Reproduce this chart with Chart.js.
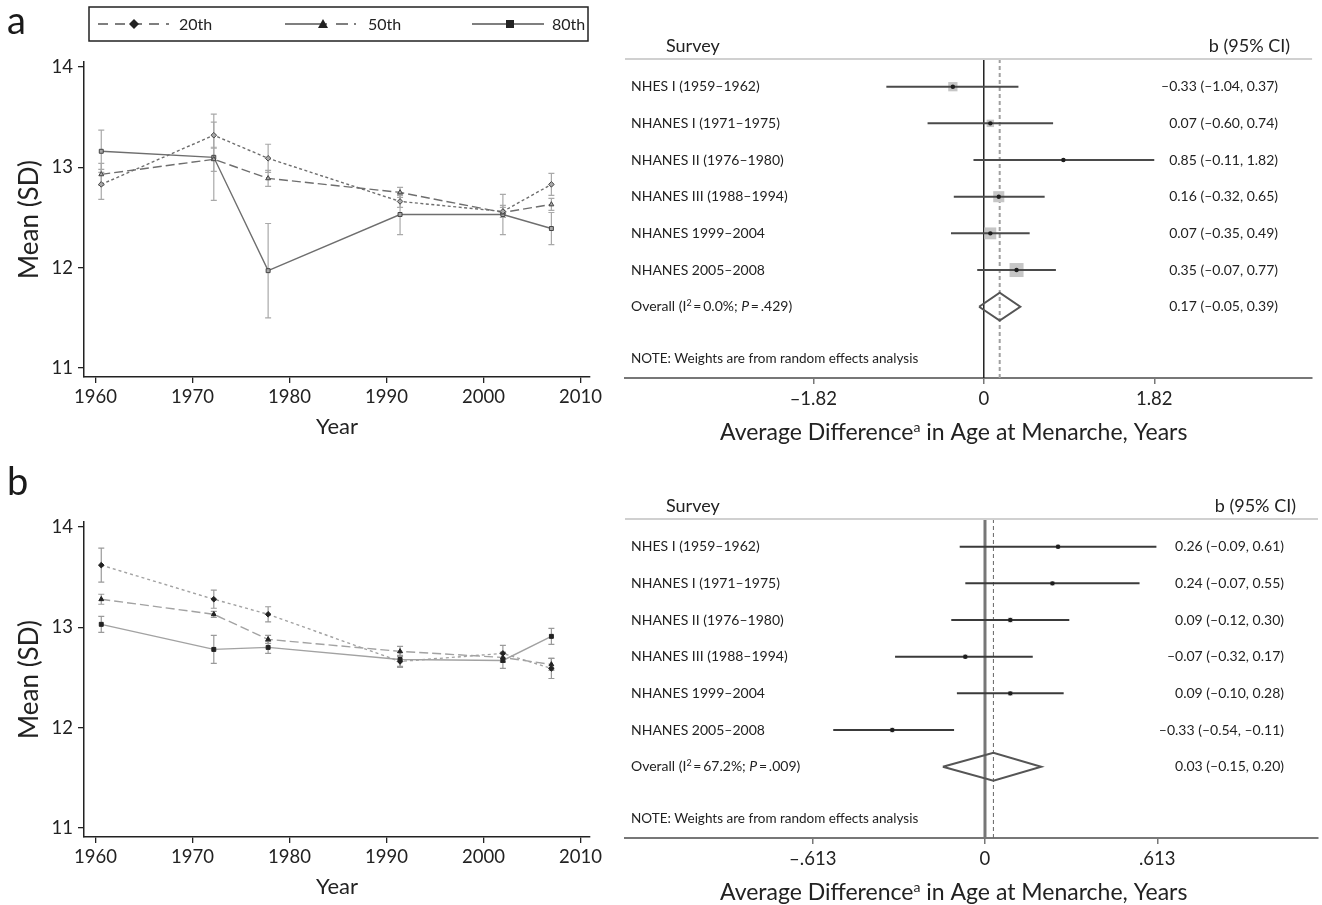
<!DOCTYPE html>
<html>
<head>
<meta charset="utf-8">
<script src="https://cdn.jsdelivr.net/npm/chart.js@4.4.1/dist/chart.umd.min.js"></script>
<style>
  body { margin: 0; background: #fff; width: 1322px; height: 905px; position: relative; overflow: hidden; font-family: Lato, sans-serif; }
  canvas { position: absolute; }
  .panel { position: absolute; font-size: 38px; line-height: 38px; color: #1a1a1a; }
</style>
</head>
<body>
<canvas id="lineA" width="615" height="445" style="left:0;top:0"></canvas>
<canvas id="lineB" width="615" height="445" style="left:0;top:460px"></canvas>
<canvas id="forestA" width="722" height="445" style="left:600px;top:0"></canvas>
<canvas id="forestB" width="722" height="445" style="left:600px;top:460px"></canvas>
<div class="panel" style="left:7px;top:0px">a</div>
<div class="panel" style="left:7px;top:461px">b</div>
<script>
// survey mid-years and axis ticks
const years = [1960.6, 1972.2, 1977.8, 1991.4, 2002.0, 2007.0];
const xTicks = [1960, 1970, 1980, 1990, 2000, 2010];
const yTicks = [11, 12, 13, 14];
const pctLabels = ['20th', '50th', '80th'];

// panel a: mean and SD by percentile
const a20 = [12.83, 13.32, 13.09, 12.66, 12.56, 12.83];
const a20sd = [0.15, 0.13, 0.14, 0.06, 0.06, 0.11];
const a50 = [12.93, 13.08, 12.89, 12.75, 12.55, 12.63];
const a50sd = [0.11, 0.12, 0.08, 0.05, 0.05, 0.06];
const a80 = [13.16, 13.10, 11.97, 12.53, 12.53, 12.39];
const a80sd = [0.21, 0.43, 0.47, 0.20, 0.20, 0.16];

// panel b
const b20 = [13.62, 13.28, 13.13, 12.66, 12.74, 12.59];
const b20sd = [0.17, 0.09, 0.075, 0.06, 0.08, 0.10];
const b50 = [13.28, 13.13, 12.88, 12.76, 12.70, 12.63];
const b50sd = [0.05, 0.03, 0.04, 0.05, 0.05, 0.06];
const b80 = [13.03, 12.78, 12.80, 12.68, 12.67, 12.91];
const b80sd = [0.08, 0.14, 0.06, 0.07, 0.08, 0.08];

// forest plots
const surveys = ['NHES I (1959–1962)', 'NHANES I (1971–1975)', 'NHANES II (1976–1980)',
  'NHANES III (1988–1994)', 'NHANES 1999–2004', 'NHANES 2005–2008'];
const estA = [-0.33, 0.07, 0.85, 0.16, 0.07, 0.35];
const loA = [-1.04, -0.60, -0.11, -0.32, -0.35, -0.07];
const hiA = [0.37, 0.74, 1.82, 0.65, 0.49, 0.77];
const weightA = [14, 9, 2, 20, 23, 32];
const overallA = [0.17, -0.05, 0.39];
const i2A = '0.0%', pA = '.429';
const ticksA = [-1.82, 0, 1.82];

const estB = [0.26, 0.24, 0.09, -0.07, 0.09, -0.33];
const loB = [-0.09, -0.07, -0.12, -0.32, -0.10, -0.54];
const hiB = [0.61, 0.55, 0.30, 0.17, 0.28, -0.11];
const weightB = [15, 16, 18, 16, 18, 17];
const overallB = [0.03, -0.15, 0.20];
const i2B = '67.2%', pB = '.009';
const ticksB = [-0.613, 0, 0.613];

Chart.defaults.font.family = 'Lato, sans-serif';
Chart.defaults.color = '#222';

function drawMarker(ctx, style, x, y, r) {
  ctx.beginPath();
  if (style === 'rectRot') {
    ctx.moveTo(x, y - r); ctx.lineTo(x + r, y); ctx.lineTo(x, y + r); ctx.lineTo(x - r, y);
  } else if (style === 'triangle') {
    ctx.moveTo(x, y - r); ctx.lineTo(x + r, y + r * 0.8); ctx.lineTo(x - r, y + r * 0.8);
  } else {
    ctx.rect(x - r * 0.8, y - r * 0.8, r * 1.6, r * 1.6);
  }
  ctx.closePath();
  ctx.fill();
}

const markers = ['rectRot', 'triangle', 'rect'];

const errorBars = {
  id: 'errorBars',
  beforeDatasetsDraw(chart, args, opts) {
    const {ctx, scales: {x, y}} = chart;
    ctx.save();
    ctx.strokeStyle = opts.color;
    ctx.lineWidth = 1.2;
    opts.sets.forEach(([m, sd]) => m.forEach((v, i) => {
      const px = x.getPixelForValue(years[i]);
      const t = y.getPixelForValue(v + sd[i]);
      const b = y.getPixelForValue(v - sd[i]);
      ctx.beginPath();
      ctx.moveTo(px, t); ctx.lineTo(px, b);
      ctx.moveTo(px - 3, t); ctx.lineTo(px + 3, t);
      ctx.moveTo(px - 3, b); ctx.lineTo(px + 3, b);
      ctx.stroke();
    }));
    ctx.restore();
  }
};

// boxed legend above panel a
const legendBox = {
  id: 'legendBox',
  afterDraw(chart) {
    const ctx = chart.ctx;
    const items = [
      {x0: 98, x1: 169, mx: 134, tx: 179, dash: [10, 7]},
      {x0: 285, x1: 356, mx: 323, tx: 368, dash: [42, 9, 12, 6]},
      {x0: 472, x1: 544, mx: 510, tx: 552, dash: []}
    ];
    const cy = 24;
    ctx.save();
    ctx.strokeStyle = '#222';
    ctx.lineWidth = 1.5;
    ctx.strokeRect(89, 7, 499, 34);
    items.forEach((it, k) => {
      ctx.strokeStyle = '#555';
      ctx.lineWidth = 1.3;
      ctx.setLineDash(it.dash);
      ctx.beginPath(); ctx.moveTo(it.x0, cy); ctx.lineTo(it.x1, cy); ctx.stroke();
      ctx.setLineDash([]);
      ctx.fillStyle = '#222';
      drawMarker(ctx, markers[k], it.mx, cy, 5);
      ctx.font = '16px Lato';
      ctx.textBaseline = 'middle';
      ctx.fillText(pctLabels[k], it.tx, cy + 1);
    });
    ctx.restore();
  }
};

function lineChart(id, series, sds, look) {
  const dashes = look.dashes;
  const datasets = series.map((ys, k) => ({
    label: pctLabels[k],
    data: years.map((x, i) => ({x, y: ys[i]})),
    showLine: true,
    borderColor: look.line,
    borderWidth: 1.4,
    borderDash: dashes[k],
    pointStyle: markers[k],
    pointRadius: 2.8,
    pointBackgroundColor: look.fill,
    pointBorderColor: look.mark,
    pointBorderWidth: 1
  }));
  return new Chart(document.getElementById(id), {
    type: 'scatter',
    data: {datasets},
    options: {
      responsive: false,
      animation: false,
      layout: {padding: {top: 62, right: 25, left: 0, bottom: 0}},
      plugins: {
        legend: {display: false},
        tooltip: {enabled: false},
        errorBars: {sets: series.map((s, k) => [s, sds[k]]), color: look.err}
      },
      scales: {
        x: {
          min: 1958.82, max: 2010.98,
          afterBuildTicks: ax => { ax.ticks = xTicks.map(v => ({value: v})); },
          afterFit: s => { s.height = 68; },
          grid: {drawOnChartArea: false, tickLength: 6, color: '#222', lineWidth: 1.3},
          border: {color: '#222', width: 1.5},
          ticks: {font: {size: 18.5}, color: '#222', padding: 3, maxRotation: 0, autoSkip: false, callback: v => String(v)},
          title: {display: true, text: 'Year', font: {size: 22}, color: '#222', padding: {top: 0, bottom: 5}}
        },
        y: {
          min: 10.91, max: 14.05,
          afterBuildTicks: ax => { ax.ticks = yTicks.map(v => ({value: v})); },
          afterFit: s => { s.width = 84; },
          grid: {drawOnChartArea: false, tickLength: 6, color: '#222', lineWidth: 1.3},
          border: {color: '#222', width: 1.5},
          ticks: {font: {size: 18.5}, color: '#222', padding: 5, callback: v => String(v)},
          title: {display: true, text: 'Mean (SD)', font: {size: 26}, color: '#222', padding: {top: 14, bottom: 0}}
        }
      }
    },
    plugins: look.legend ? [errorBars, legendBox] : [errorBars]
  });
}

lineChart('lineA', [a20, a50, a80], [a20sd, a50sd, a80sd], {
  line: '#6e6e6e', fill: '#a8a8a8', mark: '#444', err: '#a9a9a9',
  dashes: [[3, 2.5], [9, 4], []], legend: true
});
lineChart('lineB', [b20, b50, b80], [b20sd, b50sd, b80sd], {
  line: '#a2a2a2', fill: '#222', mark: '#222', err: '#9a9a9a',
  dashes: [[3, 3], [9, 4], []], legend: false
});

function fmt(v) { return (v < 0 ? '–' : '') + Math.abs(v).toFixed(2); }

function drawRich(ctx, parts, x, y) {
  parts.forEach(p => {
    ctx.font = p.font;
    ctx.fillText(p.t, x, y - (p.up || 0));
    x += ctx.measureText(p.t).width;
  });
}

const forestText = {
  id: 'forestText',
  afterDraw(chart, args, d) {
    const {ctx, chartArea: ca, scales: {x, y}} = chart;
    ctx.save();
    // header
    ctx.fillStyle = '#222';
    ctx.textBaseline = 'middle';
    ctx.font = '18px Lato';
    ctx.fillText('Survey', ca.left + 41, ca.top - 13);
    ctx.textAlign = 'right';
    ctx.fillText('b (95% CI)', ca.right - 22, ca.top - 13);
    ctx.textAlign = 'left';
    ctx.strokeStyle = '#d0d0d0';
    ctx.lineWidth = 2;
    ctx.beginPath(); ctx.moveTo(ca.left, ca.top); ctx.lineTo(ca.right, ca.top); ctx.stroke();
    // rows
    ctx.font = '14px Lato';
    surveys.forEach((s, i) => {
      const py = y.getPixelForValue(i + 1);
      ctx.textAlign = 'left';
      ctx.fillText(s, ca.left + 6, py);
      ctx.textAlign = 'right';
      ctx.fillText(`${fmt(d.est[i])} (${fmt(d.lo[i])}, ${fmt(d.hi[i])})`, ca.right - 34, py);
    });
    const oy = y.getPixelForValue(surveys.length + 1);
    const [oe, ol, oh] = d.overall;
    ctx.fillText(`${fmt(oe)} (${fmt(ol)}, ${fmt(oh)})`, ca.right - 34, oy);
    ctx.textAlign = 'left';
    drawRich(ctx, [
      {t: 'Overall (I', font: '14px Lato'},
      {t: '2', font: '9px Lato', up: 4},
      {t: '\u2009=\u2009' + d.i2 + '; ', font: '14px Lato'},
      {t: 'P', font: 'italic 14px Lato'},
      {t: '\u2009=\u2009' + d.p + ')', font: '14px Lato'}
    ], ca.left + 6, oy);
    ctx.font = '13.5px Lato';
    ctx.fillText('NOTE: Weights are from random effects analysis', ca.left + 6, ca.bottom - 19);
    // axis title
    drawRich(ctx, [
      {t: 'Average Difference', font: '23px Lato'},
      {t: 'a', font: '14px Lato', up: 6},
      {t: ' in Age at Menarche, Years', font: '23px Lato'}
    ], ca.left + 95, ca.bottom + 55);
    ctx.restore();
  },
  beforeDatasetsDraw(chart, args, d) {
    const {ctx, chartArea: ca, scales: {x}} = chart;
    ctx.save();
    const x0 = x.getPixelForValue(0);
    ctx.strokeStyle = d.zeroColor;
    ctx.lineWidth = d.zeroWidth;
    ctx.beginPath(); ctx.moveTo(x0, ca.top); ctx.lineTo(x0, ca.bottom); ctx.stroke();
    const xe = x.getPixelForValue(d.overall[0]);
    ctx.strokeStyle = d.dashColor;
    ctx.lineWidth = d.dashWidth;
    ctx.setLineDash([4, 3]);
    ctx.beginPath(); ctx.moveTo(xe, ca.top); ctx.lineTo(xe, ca.bottom); ctx.stroke();
    ctx.restore();
  }
};

function forest(id, d) {
  const rows = surveys.map((_, i) => i + 1);
  const oRow = surveys.length + 1;
  const [oe, ol, oh] = d.overall;
  const dots = {
    type: 'scatter', data: rows.map((r, i) => ({x: d.est[i], y: r})),
    pointStyle: 'circle', pointRadius: 2.2, backgroundColor: '#1e1e1e', borderWidth: 0
  };
  const ciLines = rows.map((r, i) => ({
    type: 'line', data: [{x: d.lo[i], y: r}, {x: d.hi[i], y: r}],
    borderColor: d.ciColor, borderWidth: 2, pointRadius: 0
  }));
  const diamond = {
    type: 'line',
    data: [{x: ol, y: oRow}, {x: oe, y: oRow - 0.38}, {x: oh, y: oRow}, {x: oe, y: oRow + 0.38}, {x: ol, y: oRow}],
    borderColor: '#555', borderWidth: 2, pointRadius: 0, fill: false, tension: 0
  };
  const boxes = {
    type: 'scatter', data: rows.map((r, i) => ({x: d.est[i], y: r})),
    pointStyle: 'rect', pointRadius: d.weight.map(w => Math.sqrt(w) * d.boxK),
    backgroundColor: '#c6c6c6', borderWidth: 0
  };
  return new Chart(document.getElementById(id), {
    type: 'scatter',
    data: {datasets: [dots, ...ciLines, diamond, boxes]},
    options: {
      responsive: false,
      animation: false,
      layout: {padding: {left: 25, top: 59, right: 0, bottom: 0}},
      plugins: {legend: {display: false}, tooltip: {enabled: false}, forestText: d},
      scales: {
        x: {
          min: d.xmin, max: d.xmax,
          afterBuildTicks: ax => { ax.ticks = d.ticks.map(v => ({value: v})); },
          afterFit: s => { s.height = 67; },
          grid: {drawOnChartArea: false, tickLength: 6, color: '#777', lineWidth: 1.5},
          border: {color: '#777', width: 2},
          ticks: {font: {size: 18.5}, color: '#222', padding: 4, maxRotation: 0, autoSkip: false, callback: d.fmtTick}
        },
        y: {display: false, reverse: true, min: 0.245, max: 8.944}
      }
    },
    plugins: [forestText]
  });
}

forest('forestA', {
  est: estA, lo: loA, hi: hiA, weight: weightA, boxK: 1.75, overall: overallA, i2: i2A, p: pA,
  ticks: ticksA, xmin: -3.83, xmax: 3.505,
  fmtTick: v => v === 0 ? '0' : (v < 0 ? '–' : '') + Math.abs(v).toFixed(2),
  ciColor: '#4a4a4a', zeroColor: '#222', zeroWidth: 1.5, dashColor: '#a0a0a0', dashWidth: 2
});
forest('forestB', {
  est: estB, lo: loB, hi: hiB, weight: weightB, boxK: 0.8, overall: overallB, i2: i2B, p: pB,
  ticks: ticksB, xmin: -1.281, xmax: 1.185,
  fmtTick: v => v === 0 ? '0' : (v < 0 ? '–' : '') + Math.abs(v).toFixed(3).replace(/^0/, ''),
  ciColor: '#3a3a3a', zeroColor: '#777', zeroWidth: 3, dashColor: '#666', dashWidth: 1
});
</script>
</body>
</html>
